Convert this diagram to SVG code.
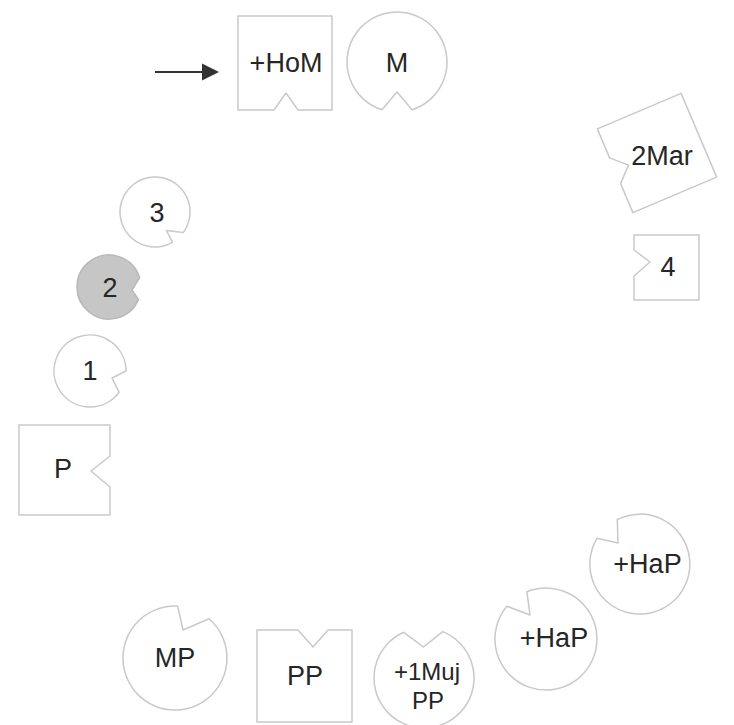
<svg xmlns="http://www.w3.org/2000/svg" width="734" height="725" viewBox="0 0 734 725">
<style>
.s{fill:#fff;stroke:#c9c9c9;stroke-width:1.5;stroke-linejoin:round}
.g{fill:#c6c6c6;stroke:#b8b8b8;stroke-width:1.5}
text{font-family:"Liberation Sans",Arial,sans-serif;font-size:27px;fill:#262626;text-anchor:middle}
.sm{font-size:24px}
</style>
<rect width="734" height="725" fill="#fff"/>
<g id="connectors">
<path d="M155 72 H203" stroke="#333" stroke-width="2" fill="none"/>
<path d="M202 63.5 L219 72 L202 80.5 Z" fill="#333"/>
</g>
<g id="node-HoM">
<path class="s" d="M238 16 H332 V110 H298 L286 93 L274 110 H238 Z"/>
<text x="286" y="72">+HoM</text>
</g>
<g id="node-M">
<path class="s" d="M382 109.7 A50 50 0 1 1 412 109.7 L397 92 Z"/>
<text x="397" y="72">M</text>
</g>
<g id="node-2Mar">
<path class="s" transform="translate(657 153) rotate(-23)" d="M-45.5 -45.5 H45.5 V45.5 H-45.5 V14 L-31 0 L-45.5 -14 Z"/>
<text x="662" y="165">2Mar</text>
</g>
<g id="node-4">
<path class="s" d="M634 235 H699 V300 H634 V276 L650 262 L634 250 Z"/>
<text x="668" y="276">4</text>
</g>
<g id="node-3">
<path class="s" d="M172.5 242.3 A35 35 0 1 1 183.3 232.6 L166.5 230.5 Z"/>
<text x="157" y="222">3</text>
</g>
<g id="node-2">
<path class="g" d="M138.5 299.5 A32 32 0 1 1 139.6 277.6 L132 290 Z"/>
<text x="110" y="297">2</text>
</g>
<g id="node-1">
<path class="s" d="M119.1 392.2 A36 36 0 1 1 126 371 L112 378 Z"/>
<text x="90" y="380">1</text>
</g>
<g id="node-P">
<path class="s" d="M19 425 H110 V456 L91 471 L110 487 V515 H19 Z"/>
<text x="63" y="478">P</text>
</g>
<g id="node-MP">
<path class="s" d="M209.1 618.8 A52 52 0 1 1 177.7 606.1 L183 630 Z"/>
<text x="175" y="667">MP</text>
</g>
<g id="node-PP">
<path class="s" d="M257 630 H298 L313 647 L328 630 H352 V722 H257 Z"/>
<text x="305" y="685">PP</text>
</g>
<g id="node-1MujPP">
<path class="s" d="M442.7 631.6 A50 50 0 1 1 403.7 632.3 L423.5 647 Z"/>
<text class="sm" x="427" y="680">+1Muj</text>
<text class="sm" x="428" y="709">PP</text>
</g>
<g id="node-HaP1">
<path class="s" d="M526.9 591.7 A51 51 0 1 1 506.9 606.2 L530 615 Z"/>
<text x="554" y="647">+HaP</text>
</g>
<g id="node-HaP2">
<path class="s" d="M617.3 519.5 A50 50 0 1 1 597.1 538.2 L618 543 Z"/>
<text x="647.5" y="573">+HaP</text>
</g>
</svg>
